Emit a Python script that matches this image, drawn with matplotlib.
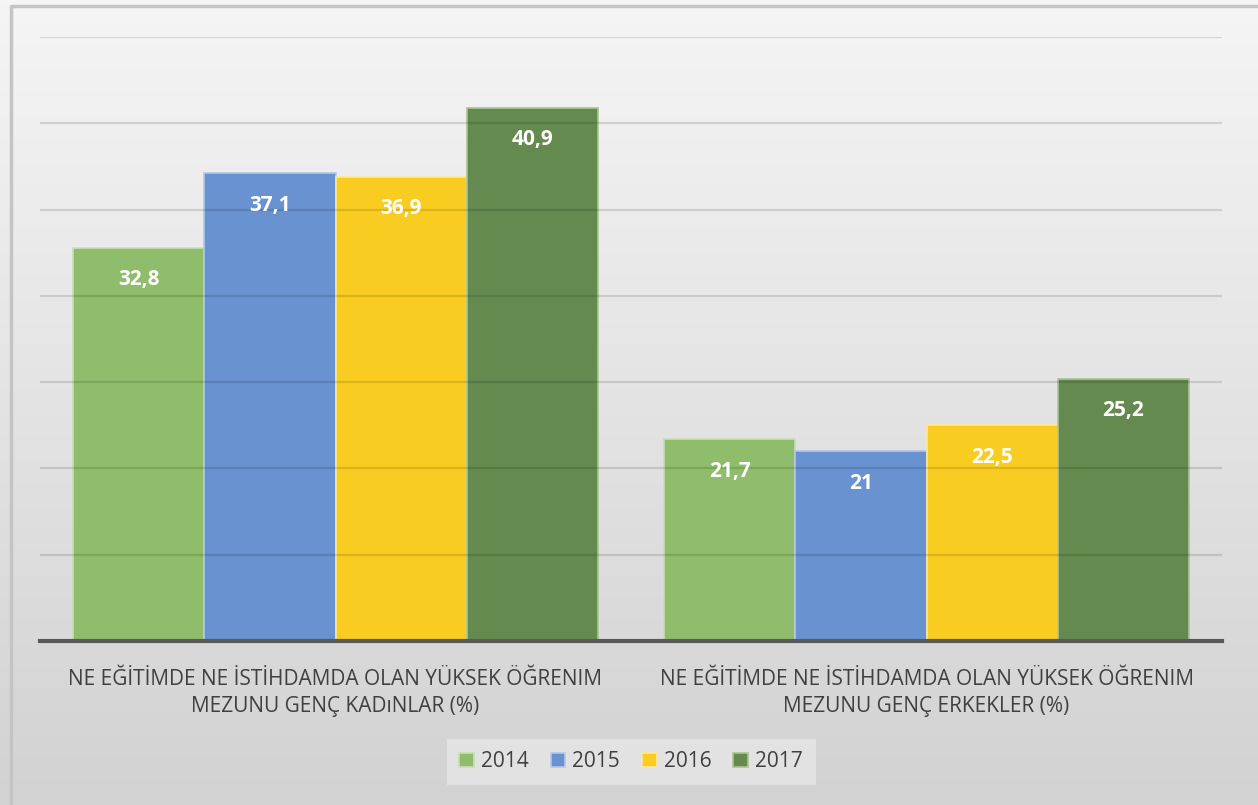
import matplotlib.pyplot as plt
import numpy as np

categories = ["NE EĞİTİMDE NE İSTİHDAMDA OLAN YÜKSEK ÖĞRENIM\nMEZUNU GENÇ KADıNLAR (%)",
              "NE EĞİTİMDE NE İSTİHDAMDA OLAN YÜKSEK ÖĞRENIM\nMEZUNU GENÇ ERKEKLER (%)"]
years = ["2014", "2015", "2016", "2017"]
values_2014 = [32.8, 21.7]
values_2015 = [37.1, 21.0]
values_2016 = [36.9, 22.5]
values_2017 = [40.9, 25.2]
value_labels = [["32,8", "21,7"], ["37,1", "21"], ["36,9", "22,5"], ["40,9", "25,2"]]

colors = ["#8fbd6b", "#6892d0", "#f9cc22", "#658a4f"]
edge_colors = ["#c6e0b4", "#b4c7e7", "#ffe699", "#a9c596"]


def main():
    plt.rcParams["font.family"] = ["Open Sans", "DejaVu Sans"]
    fig = plt.figure(figsize=(12.58, 8.05), dpi=100)

    # gradient background
    bg = fig.add_axes([0, 0, 1, 1], zorder=-10)
    grad = np.linspace(0, 1, 256).reshape(-1, 1)
    bg.imshow(grad, cmap=plt.matplotlib.colors.LinearSegmentedColormap.from_list(
        "bg", ["#f5f5f5", "#d2d2d2"]), aspect="auto", extent=[0, 1, 0, 1], origin="upper")
    bg.set_xlim(0, 1)
    bg.set_ylim(0, 1)
    bg.plot([0.009, 0.009, 0.999], [0.0, 0.993, 0.993], color="#c4c4c4", lw=2.5)
    bg.axis("off")

    ax = fig.add_axes([40 / 1258, 1 - 641 / 805, 1182 / 1258, 604 / 805])
    ax.patch.set_alpha(0)
    series = [values_2014, values_2015, values_2016, values_2017]
    x = np.arange(len(categories))
    width = 0.222
    for i, vals in enumerate(series):
        pos = x + (i - 1.5) * width
        bars = ax.bar(pos, np.array(vals) - 10, width, bottom=10, color=colors[i],
                      edgecolor=edge_colors[i], linewidth=1.2, label=years[i], zorder=2)
        for b, txt in zip(bars, value_labels[i]):
            ax.text(b.get_x() + b.get_width() / 2, b.get_y() + b.get_height() - 1.85, txt,
                    ha="center", va="center", color="white", fontsize=15,
                    fontweight="bold", zorder=4)

    ax.set_xlim(-0.5, 1.5)
    ax.set_ylim(10, 45)
    for yv in range(15, 50, 5):
        ax.axhline(yv, color="black", alpha=0.12, lw=1.6, zorder=3)
    ax.axhline(10, color="#595959", lw=3, zorder=5, clip_on=False)
    for s in ax.spines.values():
        s.set_visible(False)
    ax.set_yticks([])
    ax.set_xticks(x)
    ax.set_xticklabels(categories, fontsize=15, color="#404040", linespacing=1.38)
    ax.tick_params(axis="x", length=0, pad=20)

    leg = ax.legend(loc="upper center", bbox_to_anchor=(0.5, -0.145), ncol=4,
                    frameon=True, fontsize=15, handlelength=0.7, handleheight=0.7,
                    handletextpad=0.35, columnspacing=1.05, borderpad=0.6)
    leg.get_frame().set_facecolor("#e2e2e2")
    leg.get_frame().set_edgecolor("none")
    leg.get_frame().set_alpha(1)
    leg.get_frame().set_boxstyle("square", pad=0)
    for t in leg.get_texts():
        t.set_color("#404040")

    fig.savefig("out.png", dpi=100)


if __name__ == "__main__":
    main()
